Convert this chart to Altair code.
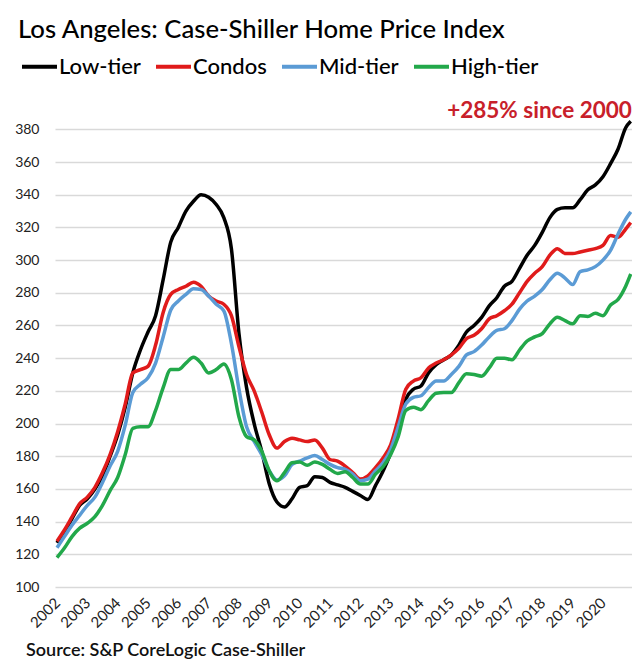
import altair as alt
import pandas as pd

# ---------------- data ----------------
YEARS = list(range(2002, 2021))
# quarterly observation times (Jan 2002 ... Oct 2020) plus the last month (Dec 2020)
T = [2002 + q / 4 for q in range(76)] + [2020.917]

LOW = [127, 134, 142, 150,
       154, 160, 168, 180,
       193, 210, 231, 245,
       256, 266, 288, 311,
       320, 330, 336, 340,
       338.5, 334, 326, 307,
       255, 222, 200, 183,
       163, 152, 149, 154,
       161, 162, 167.5, 167,
       164, 162.5, 161, 158.5,
       156, 153.5, 162, 171,
       182, 198, 215, 221,
       223, 231, 236, 239,
       242, 248, 256, 260,
       265, 272, 277, 284,
       287, 295, 303, 309,
       317, 326, 331, 332,
       332, 337, 343, 346,
       351, 359, 368, 381,
       385]

CONDOS = [128, 135, 143, 151,
          155, 161, 170, 181,
          195, 212, 231, 233,
          235, 248, 268, 279,
          282, 284, 286.5, 284,
          278, 275, 273, 266,
          247, 230, 220, 207,
          193, 185, 189, 191,
          190, 189, 190, 185,
          178, 177, 174, 170,
          166, 168, 173, 179,
          187, 203, 221, 226,
          228, 234, 237, 239,
          242, 246, 252, 254,
          258, 264, 266, 269,
          273, 280, 287, 292,
          296, 303, 307, 304,
          304, 305, 306, 307,
          309, 315, 314, 319,
          323]

MID = [124, 131, 138, 144,
       150, 155, 164, 174,
       183, 199, 219, 224,
       228, 237, 253, 269.5,
       275, 279, 282.5, 282,
       278, 273, 269, 249,
       221, 198, 189, 181,
       171, 165.5, 168, 175,
       177, 179, 180.5, 178,
       175, 173, 172, 169,
       165, 166, 171, 176,
       184, 198, 212, 216,
       217, 222, 226, 226,
       230, 235, 242, 244,
       248, 253, 257, 258,
       263, 270, 275, 278,
       282, 288, 292, 289,
       285, 293, 294, 296,
       300, 306, 316, 325,
       329.5]

HIGH = [118, 124, 131, 136,
        139, 143, 150, 159,
        167, 181, 197, 198,
        198, 208, 222, 233,
        233, 237, 240.5, 237,
        231, 233, 236.5, 227,
        204, 192, 190, 183,
        171, 165, 170, 176,
        176.5, 174.5, 176.5, 175,
        172, 169.5, 170.5, 167,
        163, 163, 169, 173.6,
        181, 192, 208, 210,
        208.5, 214, 218.5, 219,
        219, 225, 230.5, 230,
        229, 234, 240, 240,
        239, 245, 250.5, 253,
        255, 261, 265, 263,
        261, 266, 265.5, 267.5,
        266, 272.5, 276, 284,
        291.5]

SERIES = ["Low-tier", "Condos", "Mid-tier", "High-tier"]
Y_TICKS = list(range(100, 381, 20))

TITLE = "Los Angeles: Case-Shiller Home Price Index"
ANNOT_TEXT = "+285% since 2000"
ANNOT_T = 2020.955
ANNOT_V = 387
SOURCE = "Source: S&P CoreLogic Case-Shiller"

# ---------------- styles ----------------
COLORS = ["#000000", "#E01B1B", "#5B9BD5", "#22A84A"]
FONT = "Lato"

rows = []
for name, vals in zip(SERIES, [LOW, CONDOS, MID, HIGH]):
    for t, v in zip(T, vals):
        rows.append({"t": t, "v": v, "series": name})
df = pd.DataFrame(rows)

x_enc = alt.X(
    "t:Q",
    scale=alt.Scale(domain=[2001.934, 2020.958], nice=False, zero=False),
    axis=alt.Axis(values=YEARS, format="d", labelAngle=-45, labelAlign="right",
                  labelBaseline="middle", grid=False, ticks=False, tickSize=0,
                  domain=False, labelFontSize=15, labelPadding=13, title=None,
                  labelFont=FONT, labelColor="#222222", labelOverlap=False),
)
y_enc = alt.Y(
    "v:Q",
    scale=alt.Scale(domain=[100, 390], nice=False, zero=False),
    axis=alt.Axis(values=Y_TICKS, grid=True, gridColor="#D9D9D9", gridWidth=1.5,
                  ticks=False, tickSize=0, domain=False, labelFontSize=14,
                  labelPadding=16, title=None, labelFont=FONT,
                  labelColor="#222222"),
)
color_enc = alt.Color(
    "series:N",
    scale=alt.Scale(domain=SERIES, range=COLORS),
    legend=alt.Legend(orient="none", legendX=-35, legendY=-66,
                      direction="horizontal", title=None, symbolType="stroke",
                      symbolSize=1225, symbolStrokeWidth=4, labelFont=FONT,
                      labelFontSize=22, labelFontWeight=500, labelColor="#000000",
                      labelOffset=0, columnPadding=7, padding=0),
)

layers = []
for s in SERIES:
    layers.append(
        alt.Chart(df)
        .transform_filter(alt.datum.series == s)
        .mark_line(strokeWidth=3.5, interpolate="monotone", strokeJoin="round")
        .encode(x=x_enc, y=y_enc, color=color_enc)
    )

annot = (
    alt.Chart(pd.DataFrame({"t": [ANNOT_T], "v": [ANNOT_V], "label": [ANNOT_TEXT]}))
    .mark_text(align="right", baseline="alphabetic", font=FONT, fontSize=22.5,
               fontWeight="bold", color="#C8202A")
    .encode(x=x_enc, y=y_enc, text="label:N")
)

source = (
    alt.Chart(pd.DataFrame({"label": [SOURCE]}))
    .mark_text(align="left", baseline="middle", font=FONT, fontSize=18,
               fontWeight=600, color="#111111")
    .encode(x=alt.value(-29), y=alt.value(538), text="label:N")
)

chart = (
    alt.layer(*layers, annot, source)
    .properties(
        width=577,
        height=474,
        autosize=alt.AutoSizeParams(type="none"),
        padding={"left": 47, "top": 105, "right": 0, "bottom": 74},
        title=alt.TitleParams(text=TITLE, anchor="start", frame="group", dx=-37,
                              offset=-17, baseline="alphabetic", font=FONT,
                              fontSize=25.7, fontWeight=500, color="#000000"),
        background="white",
    )
    .configure_view(stroke=None)
)

chart.save("out.html", embed_options={"renderer": "svg", "actions": False})
